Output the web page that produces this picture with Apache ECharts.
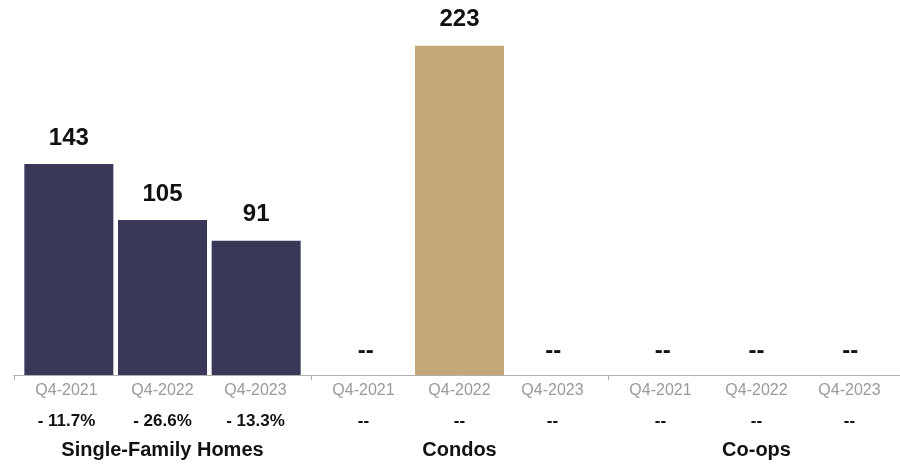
<!DOCTYPE html>
<html>
<head>
<meta charset="utf-8">
<script src="https://cdn.jsdelivr.net/npm/echarts@6/dist/echarts.min.js"></script>
<style>
  html, body { margin: 0; padding: 0; background: #ffffff; }
  #chart { width: 900px; height: 464px; }
</style>
</head>
<body>
<div id="chart"></div>
<script>
// Quarter labels and property groups
const quarters = ['Q4-2021', 'Q4-2022', 'Q4-2023'];
const groups = ['Single-Family Homes', 'Condos', 'Co-ops'];

// Sales counts per group (null = no data)
const singleFamilyValues = [143, 105, 91];
const condoValues = [null, 223, null];
const coopValues = [null, null, null];

// Year-over-year change per group (null = no data)
const singleFamilyChange = ['- 11.7%', '- 26.6%', '- 13.3%'];
const condoChange = [null, null, null];
const coopChange = [null, null, null];

const groupColors = ['#3a3858', '#c4a877', '#8c8c8c'];

const groupValues = [singleFamilyValues, condoValues, coopValues];
const groupChanges = [singleFamilyChange, condoChange, coopChange];

const FONT = '"Liberation Sans", Arial, Helvetica, sans-serif';

// One bar series per quarter position so the bars inside a group sit a little
// closer together than the category slots; missing values get a "--" marker.
const categories = [];
const changeLabels = [];
const seriesData = quarters.map(() => []);
groupValues.forEach((vals, g) => {
  vals.forEach((v, i) => {
    categories.push(quarters[i]);
    changeLabels.push(groupChanges[g][i] == null ? '--' : groupChanges[g][i]);
    quarters.forEach((q, p) => {
      if (p !== i) {
        seriesData[p].push('-');
      } else if (v == null) {
        seriesData[p].push({
          value: 0,
          itemStyle: { color: 'rgba(0,0,0,0)' },
          label: { formatter: '--', distance: 12 }
        });
      } else {
        seriesData[p].push({ value: v, itemStyle: { color: groupColors[g] } });
      }
    });
  });
});

// Label padding that nudges each quarter's text toward the group's centre
const labelPad = [[0, 0, 0, 6], [0, 0, 0, 0], [0, 12, 0, 0]];
const richStyles = {};
labelPad.forEach((pad, p) => {
  richStyles['q' + p] = { fontSize: 16, color: '#9a9a9a', fontFamily: FONT, lineHeight: 20, padding: pad };
  richStyles['p' + p] = { fontSize: 17, color: '#111111', fontWeight: 'bold', fontFamily: FONT, lineHeight: 40, padding: pad };
});

const chart = echarts.init(document.getElementById('chart'), null, { renderer: 'canvas' });

chart.setOption({
  animation: false,
  backgroundColor: '#ffffff',
  grid: {
    left: 14, width: 891, top: 6, bottom: 89,
    containLabel: false,
    outerBoundsMode: 'none'
  },
  xAxis: [
    {
      type: 'category',
      data: categories,
      boundaryGap: true,
      axisLine: { show: true, lineStyle: { color: '#b0b0b0', width: 1 } },
      axisTick: {
        show: true,
        length: 5,
        lineStyle: { color: '#b0b0b0' },
        interval: (index) => index % 3 === 0
      },
      axisLabel: {
        interval: 0,
        margin: 6,
        fontFamily: FONT,
        formatter: (val, idx) => {
          const p = idx % 3;
          return '{q' + p + '|' + val + '}\n{p' + p + '|' + changeLabels[idx] + '}';
        },
        rich: richStyles
      }
    },
    {
      type: 'category',
      data: groups,
      position: 'bottom',
      offset: 65,
      axisLine: { show: false },
      axisTick: { show: false },
      axisLabel: {
        interval: 0,
        margin: 0,
        fontFamily: FONT,
        fontSize: 20,
        fontWeight: 'bold',
        color: '#111111'
      }
    }
  ],
  yAxis: {
    type: 'value',
    min: 0,
    max: 250,
    show: false,
    splitLine: { show: false }
  },
  series: seriesData.map((data, p) => ({
    type: 'bar',
    name: quarters[p],
    xAxisIndex: 0,
    data: data,
    barWidth: 89,
    barGap: '-106%',
    label: {
      show: true,
      position: 'top',
      distance: 14,
      fontFamily: FONT,
      fontSize: 24,
      fontWeight: 'bold',
      color: '#111111'
    }
  }))
});
</script>
</body>
</html>
